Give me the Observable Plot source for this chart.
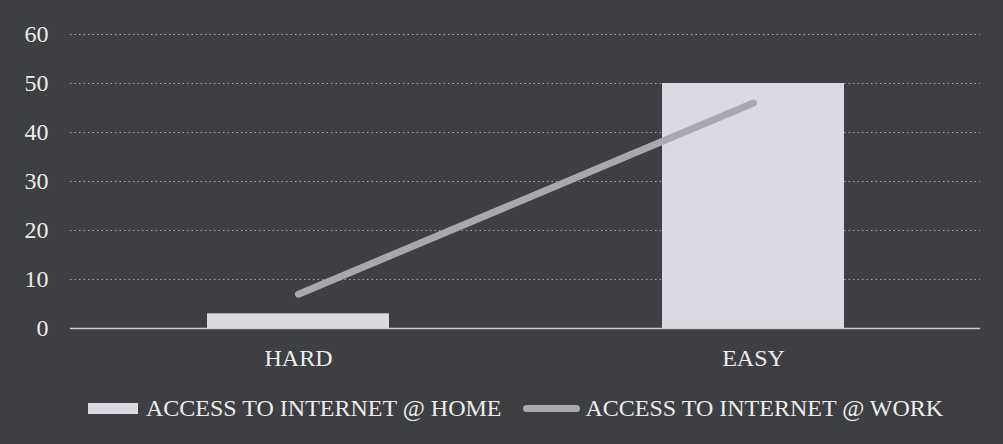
<!DOCTYPE html>
<html>
<head>
<meta charset="utf-8">
<script src="https://cdn.jsdelivr.net/npm/d3@7"></script>
<script src="https://cdn.jsdelivr.net/npm/@observablehq/plot@0.6"></script>
<style>
  html, body { margin: 0; padding: 0; background: #3e3f42; }
  body { width: 1003px; height: 444px; overflow: hidden; font-family: "Liberation Serif", "Times New Roman", serif; color: #ececec; }
  #legend { display: flex; align-items: center; height: 46px; padding-left: 88px; font-size: 24px; white-space: nowrap; }
  .item { display: flex; align-items: center; }
  .sw-bar { width: 50px; height: 11px; background: #dcd9e2; margin-right: 8px; }
  .sw-line { width: 57px; height: 7px; border-radius: 4px; background: #a9a7b0; margin-right: 5px; }
</style>
</head>
<body>
<div id="chart"></div>
<div id="legend"></div>
<script>
const categories = ["HARD", "EASY"];
const homeValues = [3, 50];
const workValues = [7, 46];
const yTicks = [0, 10, 20, 30, 40, 50, 60];
const seriesNames = ["ACCESS TO INTERNET @ HOME", "ACCESS TO INTERNET @ WORK"];

const data = categories.map((c, i) => ({category: c, home: homeValues[i], work: workValues[i]}));

const plot = Plot.plot({
  width: 1003,
  height: 385,
  marginTop: 34,
  marginBottom: 57,
  marginLeft: 70,
  marginRight: 23,
  style: {background: "transparent", color: "#ececec", fontFamily: "Liberation Serif, Times New Roman, serif", fontSize: "24px"},
  x: {domain: categories, paddingInner: 0.6, paddingOuter: 0.3, label: null, tickSize: 0, tickPadding: 20},
  y: {domain: [0, 60], ticks: yTicks, label: null, tickSize: 0, tickPadding: 22},
  marks: [
    Plot.ruleY(yTicks.filter(d => d > 0), {stroke: "#c8c8c8", strokeOpacity: 0.75, strokeDasharray: "1.5,3"}),
    Plot.barY(data, {x: "category", y: "home", fill: "#dcd9e2"}),
    Plot.ruleY([0], {stroke: "#d0d0d0", strokeWidth: 1.5}),
    Plot.line(data, {x: "category", y: "work", stroke: "#a9a7b0", strokeWidth: 7, strokeLinecap: "round"})
  ]
});
document.getElementById("chart").appendChild(plot);

const legend = document.getElementById("legend");
legend.innerHTML = `
  <div class="item"><div class="sw-bar"></div><span>${seriesNames[0]}</span></div>
  <div class="item" style="margin-left:22px"><div class="sw-line"></div><span>${seriesNames[1]}</span></div>`;
</script>
</body>
</html>
